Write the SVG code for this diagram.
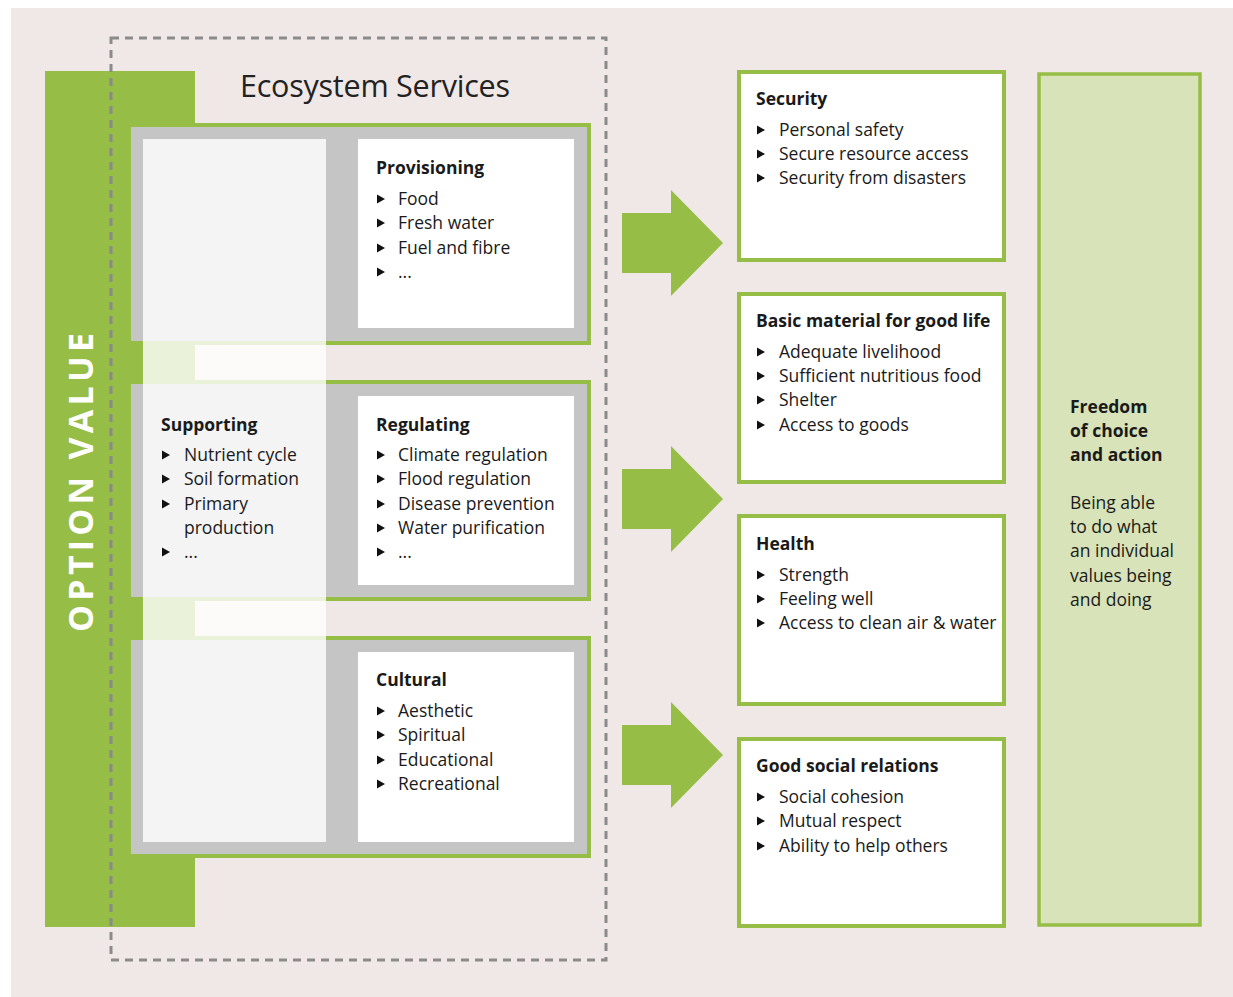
<svg xmlns="http://www.w3.org/2000/svg" xmlns:xlink="http://www.w3.org/1999/xlink" width="1233" height="997" viewBox="0 0 1233 997">
<defs>
<style>
.t{font-family:"Open Sans","Noto Sans","Liberation Sans",sans-serif;fill:#1a1a1a;font-size:17.5px}
.h{font-weight:bold}
.g{fill:#96bd45}
.panel{fill:#c4c5c4}
.wbox{fill:#ffffff}
.rbox{fill:#ffffff;stroke:#96bd45;stroke-width:4}
.arrow{fill:#96bd45}
</style>
<path id="b" d="M0,-4.5 L8,0 L0,4.5 Z" fill="#111"/>
</defs>
<rect x="0" y="0" width="1233" height="997" fill="#ffffff"/>
<rect x="11" y="8" width="1222" height="989" fill="#f0e8e6"/>

<g id="option-value">
<rect class="g" x="45" y="71" width="150" height="856"/>
<text x="0" y="0" transform="translate(93,481) rotate(-90)" text-anchor="middle" style="font-family:'Open Sans','Noto Sans',sans-serif;font-weight:bold;font-size:34px;fill:#ffffff;letter-spacing:3px" textLength="302">OPTION VALUE</text>
</g>

<g id="ecosystem-services">
<rect x="111" y="38" width="495" height="922" fill="none" stroke="#8a8a8a" stroke-width="3" stroke-dasharray="8,6"/>
<text class="t" x="240" y="97" style="font-size:30.5px;fill:#222" textLength="270">Ecosystem Services</text>
</g>

<g id="provisioning">
<rect class="g" x="131" y="123" width="460" height="222"/>
<rect class="panel" x="131" y="127" width="456" height="214"/>
<rect class="wbox" x="358" y="139" width="216" height="189"/>
<text class="t h" x="376" y="174">Provisioning</text>
<use href="#b" x="377" y="199"/><text class="t" x="398" y="205">Food</text>
<use href="#b" x="377" y="223"/><text class="t" x="398" y="229">Fresh water</text>
<use href="#b" x="377" y="248"/><text class="t" x="398" y="254">Fuel and fibre</text>
<use href="#b" x="377" y="272"/><text class="t" x="398" y="278">...</text>
</g>

<g id="regulating">
<rect class="g" x="131" y="380" width="460" height="221"/>
<rect class="panel" x="131" y="384" width="456" height="213"/>
<rect class="wbox" x="358" y="396" width="216" height="189"/>
<text class="t h" x="376" y="431">Regulating</text>
<use href="#b" x="377" y="455"/><text class="t" x="398" y="461">Climate regulation</text>
<use href="#b" x="377" y="479"/><text class="t" x="398" y="485">Flood regulation</text>
<use href="#b" x="377" y="504"/><text class="t" x="398" y="510">Disease prevention</text>
<use href="#b" x="377" y="528"/><text class="t" x="398" y="534">Water purification</text>
<use href="#b" x="377" y="552"/><text class="t" x="398" y="558">...</text>
</g>

<g id="cultural">
<rect class="g" x="131" y="636" width="460" height="222"/>
<rect class="panel" x="131" y="640" width="456" height="214"/>
<rect class="wbox" x="358" y="652" width="216" height="190"/>
<text class="t h" x="376" y="686">Cultural</text>
<use href="#b" x="377" y="711"/><text class="t" x="398" y="717">Aesthetic</text>
<use href="#b" x="377" y="735"/><text class="t" x="398" y="741">Spiritual</text>
<use href="#b" x="377" y="760"/><text class="t" x="398" y="766">Educational</text>
<use href="#b" x="377" y="784"/><text class="t" x="398" y="790">Recreational</text>
</g>

<g id="supporting">
<rect x="143" y="139" width="183" height="703" fill="#ffffff" fill-opacity="0.8"/>
<text class="t h" x="161" y="431">Supporting</text>
<use href="#b" x="162" y="455"/><text class="t" x="184" y="461">Nutrient cycle</text>
<use href="#b" x="162" y="479"/><text class="t" x="184" y="485">Soil formation</text>
<use href="#b" x="162" y="504"/><text class="t" x="184" y="510">Primary</text>
<text class="t" x="184" y="534">production</text>
<use href="#b" x="162" y="552"/><text class="t" x="184" y="558">...</text>
</g>

<g id="connectors">
<path class="arrow" d="M622,213 L671,213 L671,190 L723,243 L671,296 L671,273 L622,273 Z"/>
<path class="arrow" d="M622,469 L671,469 L671,446 L723,499 L671,552 L671,529 L622,529 Z"/>
<path class="arrow" d="M622,725 L671,725 L671,702 L723,755 L671,808 L671,785 L622,785 Z"/>
</g>

<g id="security">
<rect class="rbox" x="739" y="72" width="265" height="188"/>
<text class="t h" x="756" y="105">Security</text>
<use href="#b" x="757" y="130"/><text class="t" x="779" y="136">Personal safety</text>
<use href="#b" x="757" y="154"/><text class="t" x="779" y="160">Secure resource access</text>
<use href="#b" x="757" y="178"/><text class="t" x="779" y="184">Security from disasters</text>
</g>

<g id="basic-material">
<rect class="rbox" x="739" y="294" width="265" height="188"/>
<text class="t h" x="756" y="327">Basic material for good life</text>
<use href="#b" x="757" y="352"/><text class="t" x="779" y="358">Adequate livelihood</text>
<use href="#b" x="757" y="376"/><text class="t" x="779" y="382">Sufficient nutritious food</text>
<use href="#b" x="757" y="400"/><text class="t" x="779" y="406">Shelter</text>
<use href="#b" x="757" y="425"/><text class="t" x="779" y="431">Access to goods</text>
</g>

<g id="health">
<rect class="rbox" x="739" y="516" width="265" height="188"/>
<text class="t h" x="756" y="550">Health</text>
<use href="#b" x="757" y="575"/><text class="t" x="779" y="581">Strength</text>
<use href="#b" x="757" y="599"/><text class="t" x="779" y="605">Feeling well</text>
<use href="#b" x="757" y="623"/><text class="t" x="779" y="629">Access to clean air &amp; water</text>
</g>

<g id="social-relations">
<rect class="rbox" x="739" y="739" width="265" height="187"/>
<text class="t h" x="756" y="772">Good social relations</text>
<use href="#b" x="757" y="797"/><text class="t" x="779" y="803">Social cohesion</text>
<use href="#b" x="757" y="821"/><text class="t" x="779" y="827">Mutual respect</text>
<use href="#b" x="757" y="846"/><text class="t" x="779" y="852">Ability to help others</text>
</g>

<g id="freedom">
<rect x="1039" y="74" width="161" height="851" fill="#d8e3b9" stroke="#96bd45" stroke-width="3.5"/>
<text class="t h" x="1070" y="413">Freedom</text>
<text class="t h" x="1070" y="437">of choice</text>
<text class="t h" x="1070" y="461">and action</text>
<text class="t" x="1070" y="509">Being able</text>
<text class="t" x="1070" y="533">to do what</text>
<text class="t" x="1070" y="557">an individual</text>
<text class="t" x="1070" y="582">values being</text>
<text class="t" x="1070" y="606">and doing</text>
</g>
</svg>
